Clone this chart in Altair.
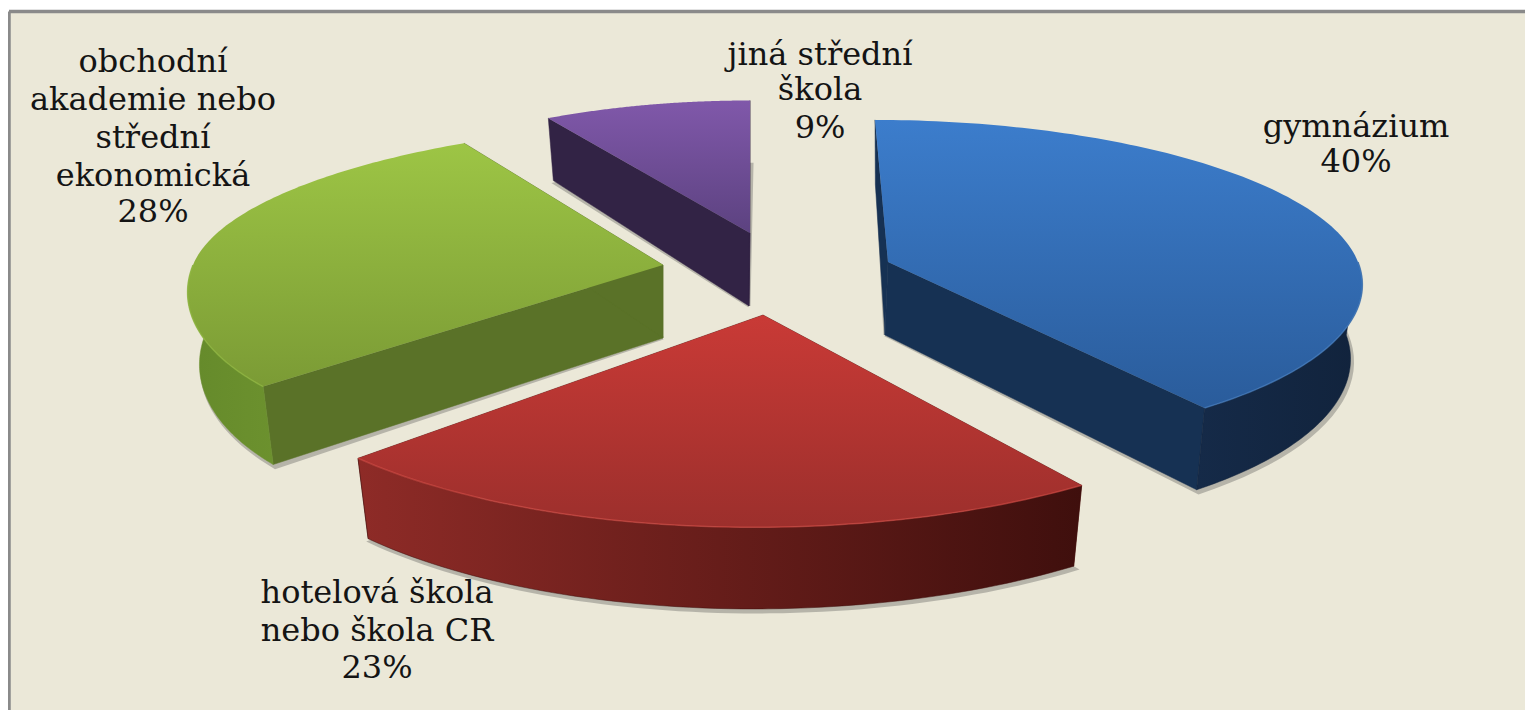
import math
import altair as alt
import pandas as pd

# --- data
categories = ["gymnázium", "hotelová škola nebo škola CR",
              "obchodní akademie nebo střední ekonomická", "jiná střední škola"]
shares = [40, 23, 28, 9]
label_lines = [["gymnázium", "40%"],
               ["hotelová škola", "nebo škola CR", "23%"],
               ["obchodní", "akademie nebo", "střední", "ekonomická", "28%"],
               ["jiná střední", "škola", "9%"]]

# --- layout and styling (pixels of the picture)
W, H = 1525, 710
M = 8
# per slice view of the tilted disc
APEX = [(888, 262), (763, 315), (663, 265), (750, 233)]
APEX_LOW = [(885, 335), (763, 390), (663, 338), (749, 306)]
RXS = [470, 533, 470, 440]
RYS = [161, 203, 161, 159]
KS = [0.133, 0.044, 0.137, 0.2]
LEAN_BACK = [-14.7, 0, 42, 0]
LEAN_FRONT = [-9.5, 9.1, 42, 0]
DROPS = [73, 78, 70.6, 73]
LABEL_X = [1356, 377, 153, 820]
LABEL_Y = [[137, 172], [603, 641, 678], [72, 110, 148, 186, 222], [65, 100, 138]]
TOP = [("#3c7dcc", "#2a5c9b"), ("#c93a36", "#9c2f2c"), ("#9dc545", "#7b9b35"), ("#8058aa", "#5c4280")]
CUT = ["#163153", "#5a1a17", "#5a7228", "#322345"]
RIM = [("#152a48", "#11233c"), ("#8e2b27", "#3f0f0d"), ("#658a2b", "#6c912e"), ("#322345", "#322345")]
HILITE = ["#4a83c8", "#d8504a", "#94bc42", "#8a66b0"]
DRAW_ORDER = [3, 2, 0, 1]
BG = "#ebe8d8"
FRAME = "#8a8a8a"


def top_pt(i, deg):
    cx, cy = APEX[i]
    t = math.radians(deg)
    c = math.cos(t)
    s = 1 / (1 + KS[i] * c)
    lean = LEAN_BACK[i] if c > 0 else LEAN_FRONT[i]
    return cx + RXS[i] * math.sin(t) * s + lean * c * abs(c) * s, cy - RYS[i] * c * s, s


def low_pt(i, deg):
    cx, cy = APEX[i]
    x, y, s = top_pt(i, deg)
    return x - (x - cx) * 0.025, y + DROPS[i] * s


def arc(i, a, b, fn, n=60):
    return [fn(i, a + (b - a) * j / n)[:2] for j in range(n + 1)]


def poly(points, close=True):
    pts = list(points) + ([points[0]] if close else [])
    return pd.DataFrame({"px": [p[0] for p in pts], "py": [p[1] for p in pts], "o": range(len(pts))})


X = alt.X("px:Q", scale=alt.Scale(domain=[M, W], nice=False, zero=False), axis=None)
Y = alt.Y("py:Q", scale=alt.Scale(domain=[H, M], nice=False, zero=False), axis=None)


def vgrad(c1, c2):
    return alt.Gradient(gradient="linear", x1=0, x2=0, y1=0, y2=1,
                        stops=[alt.GradientStop(color=c1, offset=0), alt.GradientStop(color=c2, offset=1)])


def hgrad(c1, c2):
    return alt.Gradient(gradient="linear", x1=0, x2=1, y1=0, y2=0,
                        stops=[alt.GradientStop(color=c1, offset=0), alt.GradientStop(color=c2, offset=1)])


def shape(df, fill, stroke=None, width=0, opacity=1):
    kw = dict(fill=fill, strokeWidth=width, opacity=opacity, interpolate="linear")
    kw["stroke"] = stroke if stroke else "transparent"
    return alt.Chart(df).mark_line(**kw).encode(x=X, y=Y, order=alt.Order("o:Q"))


layers = []
# page frame: only its top and left sides fall inside the picture
layers.append(shape(poly([(9, 11.5), (W + 10, 11.5), (W + 10, H + 10), (9, H + 10)]), BG, FRAME, 3.5))

# wedge angles follow the shares, clockwise from 12 o'clock
edges = [0]
for v in shares:
    edges.append(edges[-1] + v * 3.6)

for i in DRAW_ORDER:
    a, b = edges[i], edges[i + 1]
    apex = APEX[i]
    apex_low = APEX_LOW[i]
    # soft shadow under the walls
    sh = [(x + 2, y + 3) for x, y in arc(i, a, b, low_pt)]
    layers.append(shape(poly([apex_low] + sh), "#555555", "#555555", 3, 0.35))
    # cut faces
    for e in (a, b):
        face = [apex, top_pt(i, e)[:2], low_pt(i, e), apex_low]
        layers.append(shape(poly(face), CUT[i], CUT[i], 0.5))
    # rim wall, only the part turned towards the viewer
    ra, rb = max(a, 90), min(b, 270)
    if rb > ra:
        wall = arc(i, ra, rb, top_pt) + arc(i, rb, ra, low_pt)
        layers.append(shape(poly(wall), hgrad(*RIM[i]), RIM[i][1], 0.5))
    # upper face
    face = [apex] + arc(i, a, b, top_pt, 120)
    layers.append(shape(poly(face), vgrad(*TOP[i])))
    # light edge of the front rim
    if rb > ra:
        layers.append(alt.Chart(poly(arc(i, ra, rb, top_pt), close=False)).mark_line(
            stroke=HILITE[i], strokeWidth=1.5, opacity=0.6).encode(x=X, y=Y, order=alt.Order("o:Q")))

rows = []
for i, lines in enumerate(label_lines):
    for line, y in zip(lines, LABEL_Y[i]):
        rows.append({"px": LABEL_X[i], "py": y, "t": line})
layers.append(alt.Chart(pd.DataFrame(rows)).mark_text(
    font="DejaVu Serif", fontSize=32, color="#141414", align="center", baseline="alphabetic"
).encode(x=X, y=Y, text="t:N"))

chart = alt.layer(*layers).properties(
    width=W - M, height=H - M, padding=0, background="white",
    autosize=alt.AutoSizeParams(type="none")
).configure_view(stroke=None)
chart.save("out.html", embed_options={"renderer": "svg", "actions": False})
